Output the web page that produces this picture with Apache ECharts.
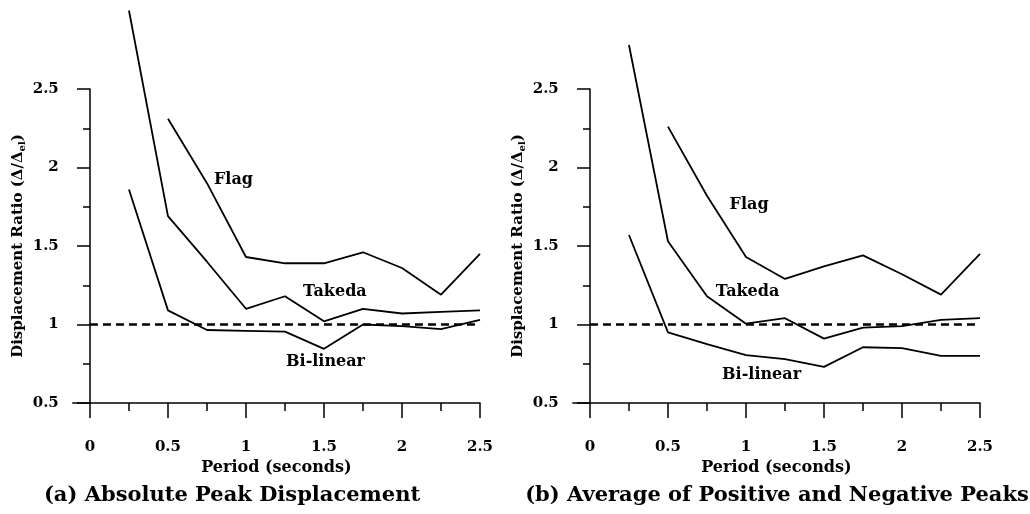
<!DOCTYPE html>
<html><head><meta charset="utf-8">
<script src="https://cdn.jsdelivr.net/npm/echarts@6/dist/echarts.min.js"></script>
<style>html,body{margin:0;padding:0;background:#fff}#c{width:1030px;height:514px}</style>
</head><body><div id="c"></div><script>
// ---- data ----
const periods   = [0.25, 0.5, 0.75, 1.0, 1.25, 1.5, 1.75, 2.0, 2.25, 2.5];
// (a) Absolute Peak Displacement
const flagA     = [null, 2.31, 1.90, 1.43, 1.39, 1.39, 1.46, 1.36, 1.19, 1.45];
const takedaA   = [3.00, 1.69, 1.40, 1.10, 1.18, 1.02, 1.10, 1.07, 1.08, 1.09];
const bilinearA = [1.86, 1.09, 0.965, 0.96, 0.955, 0.845, 1.00, 0.99, 0.97, 1.03];
// (b) Average of Positive and Negative Peaks
const flagB     = [null, 2.26, 1.82, 1.43, 1.29, 1.37, 1.44, 1.32, 1.19, 1.45];
const takedaB   = [2.78, 1.53, 1.18, 1.005, 1.04, 0.91, 0.98, 0.99, 1.03, 1.04];
const bilinearB = [1.57, 0.95, 0.875, 0.805, 0.78, 0.73, 0.855, 0.85, 0.80, 0.80];
const referenceLine = [[0, 1], [2.5, 1]];
const majorX = [0, 0.5, 1, 1.5, 2, 2.5];
const minorX = [0.25, 0.75, 1.25, 1.75, 2.25];
const seriesNames = ['Flag', 'Takeda', 'Bi-linear'];
const labelAnchorsA = [[0.92, 1.92], [1.57, 1.21], [1.51, 0.76]];
const labelAnchorsB = [[1.02, 1.76], [1.01, 1.21], [1.10, 0.68]];
const titles = ['(a) Absolute Peak Displacement', '(b) Average of Positive and Negative Peaks'];
const xName = 'Period (seconds)';

// ---- chart ----
const FONT = '"DejaVu Serif", "Liberation Serif", serif';
const BLACK = '#000';
const chart = echarts.init(document.getElementById('c'), null, {renderer: 'canvas'});

function pairs(vals) {
  const out = [];
  vals.forEach((v, i) => { if (v !== null) out.push([periods[i], v]); });
  return out;
}
const textBase = {color: BLACK, fontFamily: FONT, fontWeight: 'bold'};
const lineSt = {color: BLACK, width: 1.5};

const grids = [
  {left: 72.8, right: 550, top: 89, bottom: 111, outerBoundsMode: 'none', containLabel: false},
  {left: 572.8, right: 50, top: 89, bottom: 111, outerBoundsMode: 'none', containLabel: false}
];
const xAxes = [], yAxes = [], series = [];
[0, 1].forEach(g => {
  xAxes.push({
    type: 'value', gridIndex: g, min: -0.11, max: 2.5, position: 'bottom',
    axisLine: {show: true, onZero: false, lineStyle: lineSt},
    axisTick: {show: true, customValues: majorX, length: 15, lineStyle: lineSt},
    axisLabel: Object.assign({customValues: majorX, margin: 37, fontSize: 15,
      formatter: v => String(v)}, textBase),
    splitLine: {show: false},
    name: xName, nameLocation: 'middle', nameGap: 55,
    nameTextStyle: Object.assign({fontSize: 16}, textBase)
  });
  xAxes.push({
    type: 'value', gridIndex: g, min: -0.11, max: 2.5, position: 'bottom',
    axisLine: {show: false, onZero: false},
    axisTick: {show: true, customValues: minorX, length: 8, lineStyle: lineSt},
    axisLabel: {show: false}, splitLine: {show: false}
  });
  yAxes.push({
    type: 'value', gridIndex: g, min: 0.5, max: 2.5, interval: 0.5,
    axisLine: {show: true, onZero: true, onZeroAxisIndex: g * 2, lineStyle: lineSt},
    axisTick: {show: true, length: 13, lineStyle: lineSt},
    minorTick: {show: true, splitNumber: 2, length: 7, lineStyle: lineSt},
    splitLine: {show: false}, minorSplitLine: {show: false},
    axisLabel: Object.assign({margin: 14, fontSize: 15}, textBase),
    name: '{a|Displacement Ratio (Δ/Δ}{s|el}{a|)}',
    nameLocation: 'middle', nameRotate: 90, nameGap: 45,
    nameTextStyle: {rich: {
      a: Object.assign({fontSize: 15, lineHeight: 20}, textBase),
      s: Object.assign({fontSize: 10, lineHeight: 10, verticalAlign: 'bottom'}, textBase)
    }}
  });
});

const panels = [
  {vals: [flagA, takedaA, bilinearA], anchors: labelAnchorsA},
  {vals: [flagB, takedaB, bilinearB], anchors: labelAnchorsB}
];
panels.forEach((p, g) => {
  p.vals.forEach((vals, k) => {
    series.push({
      type: 'line', name: seriesNames[k] + g, xAxisIndex: g * 2, yAxisIndex: g,
      data: pairs(vals), showSymbol: false, symbol: 'none', clip: false,
      lineStyle: {color: BLACK, width: 1.8}, silent: true
    });
  });
  series.push({
    type: 'line', xAxisIndex: g * 2, yAxisIndex: g, data: referenceLine,
    showSymbol: false, symbol: 'none', silent: true,
    lineStyle: {color: BLACK, width: 2.6, type: [8, 5]}
  });
});

chart.setOption({
  animation: false,
  backgroundColor: '#fff',
  grid: grids,
  xAxis: xAxes,
  yAxis: yAxes,
  series: series
});

// annotations placed through the axes' own scales
const graphics = titles.map((t, i) => ({
  type: 'text', x: i === 0 ? 232 : 777, y: 496,
  style: {text: t, font: 'bold 21px ' + FONT, fill: BLACK,
    textAlign: 'center', textVerticalAlign: 'middle', verticalAlign: 'middle'}
}));
panels.forEach((p, g) => {
  p.anchors.forEach((a, k) => {
    const px = chart.convertToPixel({xAxisIndex: g * 2, yAxisIndex: g}, a);
    graphics.push({
      type: 'text', x: px[0], y: px[1],
      style: {text: seriesNames[k], font: 'bold 16px ' + FONT, fill: BLACK,
        textAlign: 'center', textVerticalAlign: 'middle', verticalAlign: 'middle'}
    });
  });
});
chart.setOption({graphic: graphics});
</script></body></html>
